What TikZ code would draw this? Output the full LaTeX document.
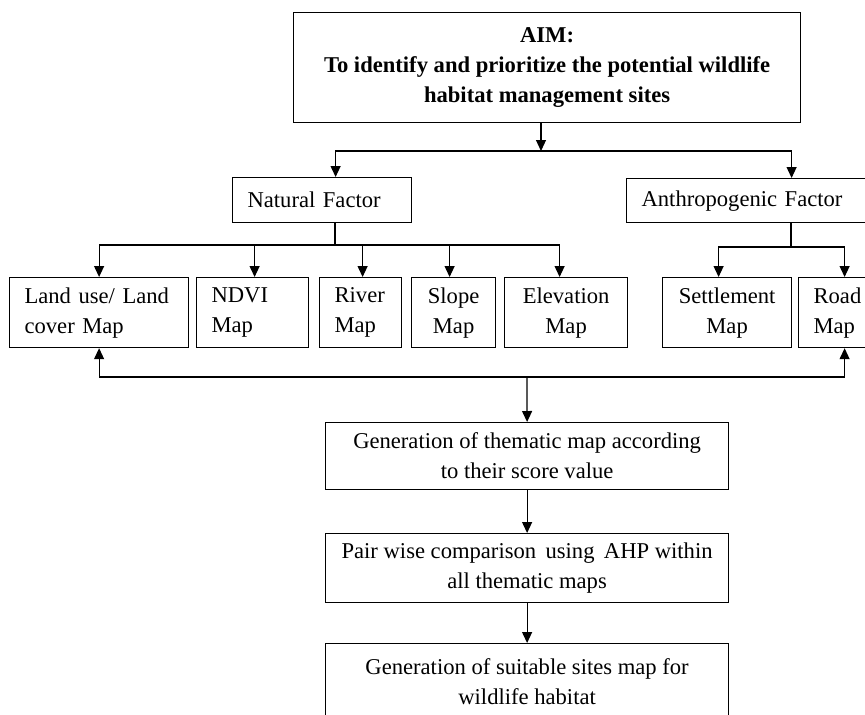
\documentclass[tikz,border=0pt]{standalone}
\usepackage{fontspec}
\setmainfont{Liberation Serif}
\usetikzlibrary{arrows.meta}
\begin{document}
\begin{tikzpicture}[x=1pt,y=-1pt,
  box/.style={draw, line width=1.2pt, inner xsep=15pt, inner ysep=0pt, anchor=north west,
    font=\fontsize{22.6}{30}\selectfont},
  lbox/.style={box, align=left},
  cbox/.style={box, align=center},
  arr/.style={line width=1.2pt, -{Triangle[length=11pt,width=10pt]}},
  ln/.style={line width=1.2pt}]
\useasboundingbox (0,0) rectangle (865,715);
\fill[white] (0,0) rectangle (865,715);

% top
\node[cbox, minimum width=507pt, minimum height=110pt,
  font=\fontsize{22.6}{30}\selectfont\bfseries] (aim) at (293,12)
  {AIM:\\To identify and prioritize the potential wildlife\\habitat management sites};

% factors
\node[lbox, text width=149pt, minimum height=45pt] (nat) at (232,177) {Natural Factor};
\node[lbox, text width=209pt, minimum height=44pt] (anth) at (626,178) {Anthropogenic Factor};

% maps
\node[lbox, text width=149pt, minimum height=70pt] (land) at (9,277) {Land use/ Land\\cover Map};
\node[lbox, text width=82pt, minimum height=70pt] (ndvi) at (196,277) {NDVI\\Map};
\node[lbox, text width=52pt, minimum height=70pt] (river) at (319,277) {River\\Map};
\node[cbox, inner xsep=0pt, minimum width=84pt, minimum height=70pt] (slope) at (411,277) {Slope\\Map};
\node[cbox, inner xsep=0pt, minimum width=123pt, minimum height=70pt] (elev) at (504,277) {Elevation\\Map};
\node[cbox, inner xsep=0pt, minimum width=129pt, minimum height=70pt] (settl) at (662,277) {Settlement\\Map};
\node[lbox, text width=62pt, minimum height=70pt] (road) at (798,277) {Road\\Map};

% process
\node[cbox, inner xsep=0pt, minimum width=403pt, minimum height=67pt] (gen) at (325,422)
  {Generation of thematic map according\\to their score value};
\node[cbox, inner xsep=0pt, minimum width=403pt, minimum height=69pt] (pair) at (325,533)
  {Pair wise comparison\, using\, AHP within\\all thematic maps};
\node[cbox, inner xsep=0pt, minimum width=403pt, minimum height=76pt] (final) at (325,643)
  {Generation of suitable sites map for\\wildlife habitat};

% connectors
\coordinate (j1) at (541,151);
\draw[arr] (aim.south -| j1) -- (j1);
\draw[arr] (j1) -| ([xshift=13.5pt]nat.north);
\draw[arr] (j1) -| ([xshift=45.5pt]anth.north);

\coordinate (nb) at (335,245);
\draw[ln] (nat.south -| nb) -- (nb);
\draw[arr] (nb) -| (land.north);
\draw[arr] (nb) -| ([xshift=2pt]ndvi.north);
\draw[arr] (nb) -| ([xshift=2pt]river.north);
\draw[arr] (nb) -| ([xshift=-4pt]slope.north);
\draw[arr] (nb) -| ([xshift=-6.5pt]elev.north);

\coordinate (ab) at (791,247);
\draw[ln] (anth.south -| ab) -- (ab);
\draw[arr] (ab) -| ([xshift=-8.5pt]settl.north);
\draw[arr] (ab) -| (road.north);

\coordinate (fb) at (527,377);
\draw[arr] (fb) -| (land.south);
\draw[arr] (fb) -| (road.south);
\draw[arr] (fb) -- (gen.north);
\draw[arr] (gen.south) -- (pair.north);
\draw[arr] (pair.south) -- (final.north);
\end{tikzpicture}
\end{document}
